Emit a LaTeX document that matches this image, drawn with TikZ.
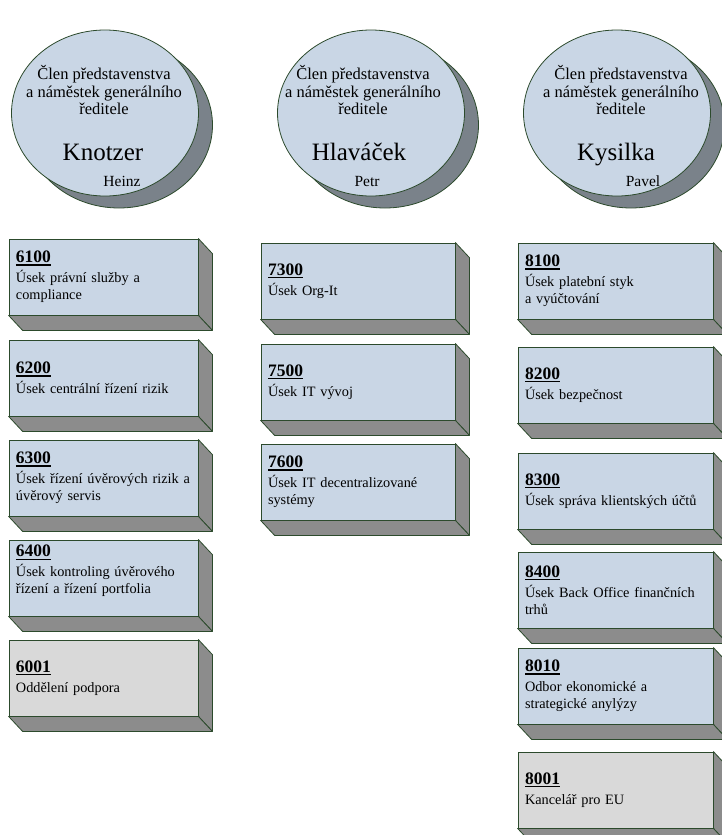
\documentclass[tikz,border=0pt]{standalone}
\usepackage{fontspec}
\setmainfont{Liberation Serif}
\usetikzlibrary{shapes.geometric}

\definecolor{paleblue}{RGB}{201,214,229}
\definecolor{palegrey}{RGB}{217,217,217}
\definecolor{sidegrey}{RGB}{140,140,140}
\definecolor{slate}{RGB}{122,130,138}
\definecolor{edgegreen}{RGB}{44,74,44}

\newcommand{\unitno}[1]{{\fontsize{17.5}{20}\selectfont\setbox0\hbox{\bfseries #1}\rlap{\rule[-3pt]{\wd0}{1.3pt}}\box0}\\[3pt]}

\begin{document}
\begin{tikzpicture}[x=1pt,y=-1pt,line join=round]
        \tikzstyle{unit}=[draw=edgegreen,line width=0.8pt,fill=paleblue,minimum height=76pt,inner xsep=7pt,inner ysep=1pt,align=left,font=\fontsize{14.3}{17}\selectfont]
        \tikzstyle{staff}=[unit,fill=palegrey]
        \tikzstyle{depth}=[draw=edgegreen,line width=0.8pt,fill=sidegrey]
        \tikzstyle{member}=[ellipse,draw=edgegreen,line width=0.8pt,fill=paleblue,minimum width=187pt,minimum height=166pt,inner sep=0pt]
        \tikzstyle{shade}=[member,fill=slate]
        \tikzstyle{head}=[align=center,inner sep=0pt,font=\fontsize{16.5}{17.5}\selectfont]
        \tikzstyle{surname}=[anchor=base,inner sep=0pt,font=\fontsize{25}{28}\selectfont]
        \tikzstyle{given}=[anchor=base,inner sep=0pt,font=\fontsize{15.5}{18}\selectfont]

        \clip (0,0) rectangle (722,835);

        % board members
        \node[shade]  (s1) at (119,125) {};
        \node[member] (m1) at (105,113) {};
        \node[shade]  (s2) at (385,125) {};
        \node[member] (m2) at (371,113) {};
        \node[shade]  (s3) at (631,125) {};
        \node[member] (m3) at (617,113) {};

        \node[head]    (h1) at (104,90) {Člen představenstva\\a náměstek generálního\\ředitele};
        \node[head]    (h2) at (363,90) {Člen představenstva\\a náměstek generálního\\ředitele};
        \node[head]    (h3) at (621,90) {Člen představenstva\\a náměstek generálního\\ředitele};
        \node[surname] (n1) at (103,160) {Knotzer};
        \node[surname] (n2) at (359,160) {Hlaváček};
        \node[surname] (n3) at (616,160) {Kysilka};
        \node[given]   (g1) at (122,186) {Heinz};
        \node[given]   (g2) at (367,186) {Petr};
        \node[given]   (g3) at (643,186) {Pavel};

        % departments
        \begin{scope}[every node/.append style={text width=175pt}]
        \node[unit]  (u6100) at (103.5,277) {\unitno{6100}Úsek právní služby a\\compliance};
        \node[unit]  (u6200) at (103.5,378) {\unitno{6200}Úsek centrální řízení rizik};
        \node[unit]  (u6300) at (103.5,478) {\unitno{6300}Úsek řízení úvěrových rizik a\\úvěrový servis};
        \node[unit]  (u6400) at (103.5,578) {\unitno{6400}Úsek kontroling úvěrového\\řízení a řízení portfolia\\\mbox{}};
        \node[staff] (u6001) at (103.5,678) {\unitno{6001}Oddělení podpora};
        \end{scope}

        \begin{scope}[every node/.append style={text width=180pt}]
        \node[unit]  (u7300) at (358,281) {\unitno{7300}Úsek Org-It};
        \node[unit]  (u7500) at (358,382) {\unitno{7500}Úsek IT vývoj};
        \node[unit]  (u7600) at (358,482) {\unitno{7600}Úsek IT decentralizované\\systémy};
        \end{scope}

        \begin{scope}[every node/.append style={text width=181pt}]
        \node[unit]  (u8100) at (615.5,281) {\unitno{8100}Úsek platební styk\\a vyúčtování};
        \node[unit]  (u8200) at (615.5,385) {\unitno{8200}Úsek bezpečnost};
        \node[unit]  (u8300) at (615.5,491) {\unitno{8300}Úsek správa klientských účtů};
        \node[unit]  (u8400) at (615.5,590) {\unitno{8400}Úsek Back Office finančních\\trhů};
        \node[unit]  (u8010) at (615.5,686) {\unitno{8010}Odbor ekonomické a\\strategické anylýzy};
        \node[staff] (u8001) at (615.5,790) {\unitno{8001}Kancelář pro EU};
        \end{scope}

        % 3d sides
        \foreach \u in {u6100,u6200,u6300,u6400,u6001,u7300,u7500,u7600,u8100,u8200,u8300,u8400,u8010,u8001} {
            \draw[depth] (\u.north east) -- ++(14,15) -- ([shift={(14,15)}]\u.south east) -- (\u.south east) -- cycle;
            \draw[depth] (\u.south west) -- (\u.south east) -- ++(14,15) -- ([shift={(14,15)}]\u.south west) -- cycle;
        }
\end{tikzpicture}
\end{document}
